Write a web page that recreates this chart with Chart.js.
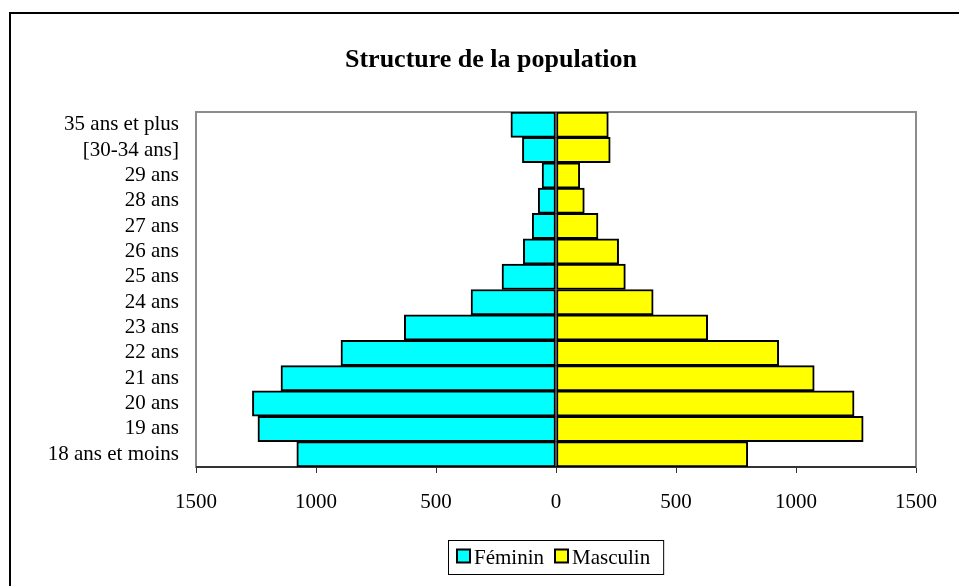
<!DOCTYPE html>
<html>
<head>
<meta charset="utf-8">
<title>Structure de la population</title>
<script src="https://cdn.jsdelivr.net/npm/chart.js@4"></script>
<style>
    body { margin: 0; background: #fff; }
    #wrap { width: 959px; height: 586px; }
</style>
</head>
<body>
<div id="wrap"><canvas id="pyramid" width="959" height="586"></canvas></div>
<script>
const chartTitle = 'Structure de la population';

// Age groups, bottom to top
const ageGroups = ['18 ans et moins', '19 ans', '20 ans', '21 ans', '22 ans', '23 ans', '24 ans',
    '25 ans', '26 ans', '27 ans', '28 ans', '29 ans', '[30-34 ans]', '35 ans et plus'];

// Headcounts
const feminin = [1080, 1242, 1265, 1146, 896, 632, 354, 225, 136, 99, 74, 58, 140, 188];
const masculin = [799, 1280, 1242, 1076, 928, 632, 405, 289, 261, 175, 118, 99, 226, 218];

// x axis ticks (both sides)
const xTicks = [-1500, -1000, -500, 0, 500, 1000, 1500];

const serif = '"Liberation Serif", "Times New Roman", serif';

// white page, outer frame, title and grey plot frame
const framePlugin = {
    id: 'frame',
    beforeDraw(chart) {
        const ctx = chart.ctx;
        ctx.save();
        ctx.fillStyle = '#fff';
        ctx.fillRect(0, 0, chart.width, chart.height);
        ctx.strokeStyle = '#000';
        ctx.lineWidth = 2;
        ctx.beginPath();
        ctx.moveTo(10, chart.height);
        ctx.lineTo(10, 13);
        ctx.lineTo(chart.width, 13);
        ctx.stroke();
        // title sits a bit right of the page centre in the original
        ctx.fillStyle = '#000';
        ctx.font = 'bold 26px ' + serif;
        ctx.textAlign = 'center';
        ctx.textBaseline = 'middle';
        ctx.fillText(chartTitle, 491, 60);
        ctx.restore();
    },
    beforeDatasetsDraw(chart) {
        const a = chart.chartArea;
        const ctx = chart.ctx;
        ctx.save();
        ctx.strokeStyle = '#8c8c8c';
        ctx.lineWidth = 2;
        ctx.strokeRect(a.left, a.top, a.right - a.left, a.bottom - a.top);
        ctx.strokeStyle = '#333';
        ctx.beginPath();
        ctx.moveTo(a.left, a.bottom);
        ctx.lineTo(a.right, a.bottom);
        ctx.stroke();
        ctx.restore();
    }
};

// boxed legend under the axis
const legendPlugin = {
    id: 'boxLegend',
    afterDraw(chart) {
        const ctx = chart.ctx;
        const a = chart.chartArea;
        ctx.save();
        ctx.font = '21px ' + serif;
        const items = chart.data.datasets.map(ds => ({
            text: ds.label,
            color: ds.backgroundColor,
            w: ctx.measureText(ds.label).width
        }));
        const sq = 15, gap = 3, spacing = 10, padL = 8, padR = 13, h = 34;
        let total = padL + padR + spacing * (items.length - 1);
        items.forEach(it => { total += sq + gap + it.w; });
        let x = Math.round((a.left + a.right) / 2 - total / 2);
        const top = Math.round(a.bottom + 73);
        const mid = top + h / 2;
        ctx.strokeStyle = '#000';
        ctx.lineWidth = 1;
        ctx.strokeRect(x + 0.5, top + 0.5, total, h);
        x += padL;
        ctx.textBaseline = 'middle';
        ctx.textAlign = 'left';
        items.forEach(it => {
            ctx.fillStyle = it.color;
            ctx.fillRect(x + 1, mid - sq / 2, sq - 2, sq - 2);
            ctx.lineWidth = 2;
            ctx.strokeRect(x + 1, mid - sq / 2, sq - 2, sq - 2);
            ctx.fillStyle = '#000';
            ctx.fillText(it.text, x + sq + gap, mid + 1);
            x += sq + gap + it.w + spacing;
        });
        ctx.restore();
    }
};

document.addEventListener('DOMContentLoaded', () => {
    const ctx = document.getElementById('pyramid').getContext('2d');
    new Chart(ctx, {
        type: 'bar',
        data: {
            labels: ageGroups,
            datasets: [{
                label: 'Féminin',
                data: feminin.map(v => -v),
                backgroundColor: '#00ffff',
                borderColor: '#000',
                borderWidth: 2,
                borderSkipped: false
            }, {
                label: 'Masculin',
                data: masculin,
                backgroundColor: '#ffff00',
                borderColor: '#000',
                borderWidth: 2,
                borderSkipped: false
            }]
        },
        options: {
            indexAxis: 'y',
            responsive: false,
            animation: false,
            layout: { padding: { left: 0, right: 43, top: 112, bottom: 59 } },
            datasets: { bar: { barPercentage: 1, categoryPercentage: 1 } },
            scales: {
                x: {
                    stacked: true,
                    min: xTicks[0],
                    max: xTicks[xTicks.length - 1],
                    afterBuildTicks: scale => { scale.ticks = xTicks.map(v => ({ value: v })); },
                    afterFit: scale => { scale.height = 60; },
                    grid: { drawOnChartArea: false, drawTicks: true, tickLength: 6, color: '#333' },
                    border: { display: false },
                    ticks: {
                        color: '#000',
                        padding: 17,
                        maxRotation: 0,
                        font: { family: serif, size: 21 },
                        callback: v => Math.abs(v)
                    }
                },
                y: {
                    stacked: true,
                    reverse: true,
                    afterFit: scale => { scale.width = 196; },
                    grid: { display: false, drawTicks: false },
                    border: { display: false },
                    ticks: {
                        color: '#000',
                        padding: 17,
                        autoSkip: false,
                        font: { family: serif, size: 21 }
                    }
                }
            },
            plugins: {
                legend: { display: false },
                tooltip: { enabled: false },
                title: { display: false }
            }
        },
        plugins: [framePlugin, legendPlugin]
    });
});
</script>
</body>
</html>
